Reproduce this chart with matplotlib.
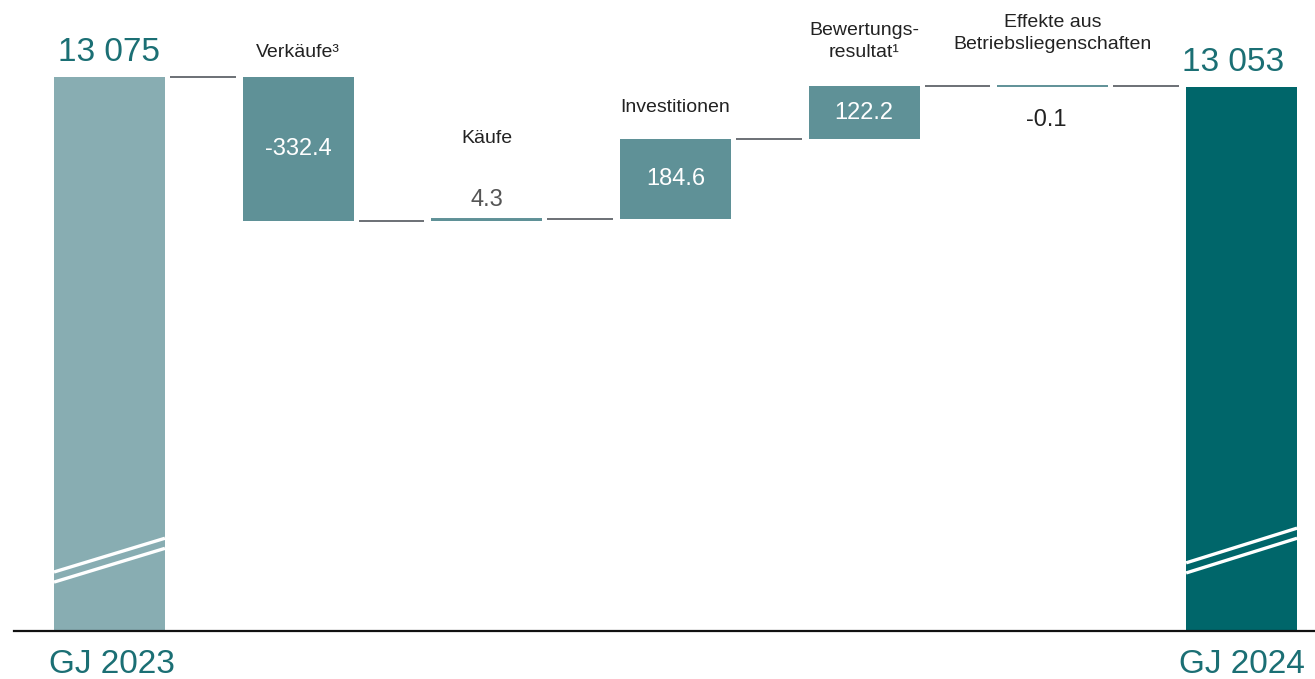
import numpy as np
import matplotlib.pyplot as plt
from matplotlib import transforms

# Portfolio bridge GJ 2023 -> GJ 2024 (CHF Mio.)
start_label = "GJ 2023"
end_label = "GJ 2024"
start_value = 13075
end_value = 13053
step_labels = ["Verkäufe³", "Käufe", "Investitionen",
               "Bewertungs-\nresultat¹", "Effekte aus\nBetriebsliegenschaften"]
changes = [-332.4, 4.3, 184.6, 122.2, -0.1]

c_start = "#88adb2"
c_step = "#5f9197"
c_end = "#00666a"
c_teal_txt = "#1b6f74"
c_conn = "#6b7075"

plt.rcParams['font.family'] = ['Liberation Sans', 'DejaVu Sans']

fig = plt.figure(figsize=(13.15, 6.79), dpi=100)
ax = fig.add_axes([14 / 1315, 48 / 679, 1 - 14 / 1315, 631 / 679])

n = len(changes)
x = np.arange(n + 2)
w = 0.588
levels = start_value + np.cumsum(changes)
prev = np.concatenate([[start_value], levels[:-1]])
y0 = 11796

# totals
ax.bar(x[0], start_value - y0, bottom=y0, width=w, color=c_start)
ax.bar(x[-1], end_value - y0, bottom=y0, width=w, color=c_end)

# steps
bottoms = np.minimum(prev, levels)
heights = np.abs(np.array(changes))
ax.bar(x[1:-1], heights, bottom=bottoms, width=w, color=c_step)

# connectors
conn_levels = np.concatenate([[start_value], levels])
for i, lv in enumerate(conn_levels):
    ax.plot([x[i] + w / 2 + 0.027, x[i + 1] - w / 2 - 0.037], [lv, lv],
            color=c_conn, lw=1.4, solid_capstyle='butt')

# thin steps drawn as a line
for i, ch in enumerate(changes):
    if abs(ch) < 10:
        ax.plot([x[i + 1] - w / 2, x[i + 1] + w / 2], [levels[i], levels[i]],
                color=c_step, lw=1.4, solid_capstyle='butt')

# axis break marks on the total bars
tr = transforms.blended_transform_factory(ax.transData, ax.transAxes)
for xi, (yl, yr) in [(x[0], (0.0935, 0.147)), (x[-1], (0.108, 0.163))]:
    for off in (0.0, 0.016):
        ax.plot([xi - w / 2, xi + w / 2], [yl - off, yr - off], color="white",
                lw=2.4, transform=tr, solid_capstyle='butt')

# total labels
ax.annotate("13 075", (x[0], start_value), xytext=(0, 12), textcoords="offset points",
            ha="center", va="baseline", fontsize=24, color=c_teal_txt)
ax.annotate("13 053", (x[-1], end_value), xytext=(-6, 11.5), textcoords="offset points",
            ha="center", va="baseline", fontsize=24, color=c_teal_txt)
ax.annotate(start_label, (x[0], y0), xytext=(2, -30), textcoords="offset points",
            ha="center", va="baseline", fontsize=24, color=c_teal_txt,
            annotation_clip=False)
ax.annotate(end_label, (x[-1], y0), xytext=(0, -30), textcoords="offset points",
            ha="center", va="baseline", fontsize=24, color=c_teal_txt,
            annotation_clip=False)

# category labels (offsets in points above the top of each step)
cat_off = [12, 52, 17, 18, 24]
tops = np.maximum(prev, levels)
for i, lab in enumerate(step_labels):
    ax.annotate(lab, (x[i + 1], tops[i]), xytext=(0, cat_off[i]), textcoords="offset points",
                ha="center", va="bottom", fontsize=14, color="#222222",
                linespacing=1.42)

# value labels
for i, ch in enumerate(changes):
    txt = f"{ch:.1f}"
    if abs(ch) >= 10:
        ax.text(x[i + 1], bottoms[i] + heights[i] / 2, txt, ha="center", va="center",
                fontsize=17, color="white")
    elif ch > 0:
        ax.annotate(txt, (x[i + 1], levels[i]), xytext=(0, 6), textcoords="offset points",
                    ha="center", va="bottom", fontsize=17, color="#555555")
    else:
        ax.annotate(txt, (x[i + 1], levels[i]), xytext=(-5, -16), textcoords="offset points",
                    ha="center", va="top", fontsize=17, color="#222222")

ax.set_xlim(-0.506, 6.389)
ax.set_ylim(y0, y0 + 631 / 0.433)
for s in ["top", "right", "left"]:
    ax.spines[s].set_visible(False)
ax.spines["bottom"].set_color("#111111")
ax.spines["bottom"].set_linewidth(1.6)
ax.set_xticks([])
ax.set_yticks([])

fig.savefig("out.png", dpi=100)
